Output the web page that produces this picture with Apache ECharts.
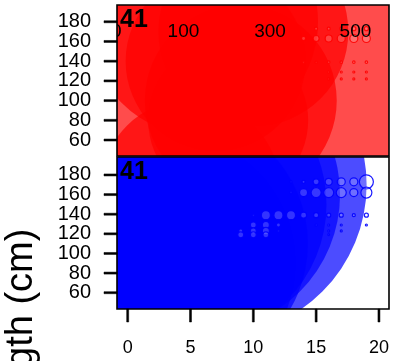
<!DOCTYPE html>
<html>
<head>
<meta charset="utf-8">
<script src="https://cdn.jsdelivr.net/npm/echarts@6/dist/echarts.min.js"></script>
<style>html,body{margin:0;padding:0;background:#fff}#c{width:393px;height:361px}</style>
</head>
<body>
<div id="c"></div>
<script>
// ---- data ----
const xTicks = [0, 5, 10, 15, 20];
const yTicks = [60, 80, 100, 120, 140, 160, 180];
const panelLabel = '41';
const yTitle = 'Length (cm)';

// legend (size key) labels inside top panel
const legendLabels = ['10', '100', '300', '500'];
const legendX = [-1.33, 4.44, 11.33, 18.13];
const legendY = [170, 170, 170, 170];

// top (red) panel: large bubbles
const redBigAge   = [10, 6, 5, 9, 10, 7, 8];
const redBigLen   = [120, 180, 10, 100, 170, 140, 80];
const redBigCount = [115600, 52900, 32400, 36864, 36100, 32400, 25600];
// top (red) panel: small bubbles
const redSmallAge   = [15,16,17,18,19, 14,15,16,17,18,19, 14,15,16,17,18,19, 16,17,18,19, 16,17,18,19];
const redSmallLen   = [173,173,173,173,173, 163,163,163,163,163,163, 139,139,139,139,139,139, 129,129,129,129, 122,122,122,122];
const redSmallCount = [9,9,9,16,16, 16,36,49,64,64,64, 4,4,6,6,6,6, 4,4,4,4, 4,4,4,4];

// bottom (blue) panel: large bubbles
const blueBigAge   = [7, 6, 5, 4, 3, 2];
const blueBigLen   = [170, 160, 150, 110, 90, 70];
const blueBigCount = [91204, 75076, 73984, 67600, 67600, 57600];
// bottom (blue) panel: small bubbles
const blueSmallAge   = [13,14,15,16,17,18,19, 13,14,15,16,17,18,19, 10,11,12,13,14,15,16,17,18,19, 10,11,12,15,16,17,19, 9,10,11,12,16,17, 9,10,11,16];
const blueSmallLen   = [173,173,173,173,173,173,173, 162,162,162,162,162,162,162, 139,139,139,139,139,139,139,139,139,139, 129,129,129,129,129,129,129, 123,123,123,123,123,123, 119,119,119,119];
const blueSmallCount = [3,9,36,49,64,64,196, 4,64,100,100,100,64,121, 4,81,81,81,36,25,16,16,9,16, 36,49,16,4,4,4,4, 16,36,49,4,4,4, 36,36,36,3];

// ---- chart ----
const FONT = '"Liberation Sans", Arial, Helvetica, sans-serif';
const R_PER_SQRT = 0.5;
const X_MIN = -0.85, X_MAX = 20.8;
const Y_RANGE_TOP = [43.8, 197], Y_RANGE_BOT = [43.4, 198.3];
const G_TOP = {left: 117, top: 5, width: 272, height: 151};
const G_BOT = {left: 117, top: 157, width: 272, height: 152};
const TICK_LEN = 12, TICK_W = 2;

function zip3(a, b, c) { return a.map((v, i) => [v, b[i], c[i]]); }

function bubbles(fill, stroke, lw) {
  return function (params, api) {
    const p = api.coord([api.value(0), api.value(1)]);
    const r = Math.sqrt(api.value(2)) * R_PER_SQRT;
    return {type: 'circle', shape: {cx: p[0], cy: p[1], r: r},
            style: {fill: fill, stroke: stroke, lineWidth: lw}};
  };
}

function xAxisCfg(grid) {
  return {gridIndex: grid, type: 'value', min: X_MIN, max: X_MAX,
          axisLine: {show: false}, splitLine: {show: false}, axisTick: {show: false}, axisLabel: {show: false}};
}
function yAxisCfg(grid, r) {
  return {gridIndex: grid, type: 'value', min: r[0], max: r[1],
          axisLine: {show: false}, splitLine: {show: false}, axisTick: {show: false}, axisLabel: {show: false}};
}

const chart = echarts.init(document.getElementById('c'), null, {renderer: 'canvas'});
chart.setOption({
  animation: false,
  backgroundColor: '#fff',
  grid: [G_TOP, G_BOT],
  xAxis: [xAxisCfg(0), xAxisCfg(1)],
  yAxis: [yAxisCfg(0, Y_RANGE_TOP), yAxisCfg(1, Y_RANGE_BOT)],
  series: [
    {type: 'custom', xAxisIndex: 0, yAxisIndex: 0, clip: true, silent: true,
     renderItem: bubbles('rgba(255,0,0,0.7)', 'none', 0),
     data: zip3(redBigAge, redBigLen, redBigCount)},
    {type: 'custom', xAxisIndex: 0, yAxisIndex: 0, clip: true, silent: true,
     renderItem: bubbles('rgba(255,255,255,0.2)', 'rgba(255,0,0,0.9)', 1.2),
     data: zip3(redSmallAge, redSmallLen, redSmallCount)},
    {type: 'custom', xAxisIndex: 0, yAxisIndex: 0, clip: true, silent: true,
     renderItem: function (params, api) {
       const p = api.coord([api.value(0), api.value(1)]);
       return {type: 'text', x: p[0], y: p[1],
               style: {text: legendLabels[api.value(2)], font: '19px ' + FONT, fill: '#000',
                       textAlign: 'center', textVerticalAlign: 'middle'}};
     },
     data: legendX.map((v, i) => [v, legendY[i], i])},
    {type: 'custom', xAxisIndex: 1, yAxisIndex: 1, clip: true, silent: true,
     renderItem: bubbles('rgba(0,0,255,0.7)', 'none', 0),
     data: zip3(blueBigAge, blueBigLen, blueBigCount)},
    {type: 'custom', xAxisIndex: 1, yAxisIndex: 1, clip: true, silent: true,
     renderItem: bubbles('rgba(255,255,255,0.2)', 'rgba(0,0,255,0.9)', 1.2),
     data: zip3(blueSmallAge, blueSmallLen, blueSmallCount)}
  ]
});

// axes (ticks, labels), frames and texts, positioned through the chart's own scales
const g = [];
[0, 1].forEach(function (gi) {
  yTicks.forEach(function (v) {
    const p = chart.convertToPixel({gridIndex: gi}, [X_MIN, v]);
    g.push({type: 'rect', z: 100, silent: true,
            shape: {x: p[0] - TICK_LEN - 1, y: p[1] - TICK_W / 2, width: TICK_LEN + 1, height: TICK_W},
            style: {fill: '#000', stroke: '#000', lineWidth: 0.5}});
    g.push({type: 'text', z: 100, silent: true, x: p[0] - TICK_LEN - 14, y: p[1],
            style: {text: String(v), font: '20px ' + FONT, fill: '#000', textAlign: 'right', textVerticalAlign: 'middle'}});
  });
});
xTicks.forEach(function (v) {
  const p = chart.convertToPixel({gridIndex: 1}, [v, Y_RANGE_BOT[0]]);
  g.push({type: 'rect', z: 100, silent: true,
          shape: {x: p[0] - TICK_W / 2, y: p[1], width: TICK_W, height: TICK_LEN + 1},
          style: {fill: '#000', stroke: '#000', lineWidth: 0.5}});
  g.push({type: 'text', z: 100, silent: true, x: p[0], y: p[1] + 39,
          style: {text: String(v), font: '18px ' + FONT, fill: '#000', textAlign: 'center', textVerticalAlign: 'middle'}});
});
[G_TOP, G_BOT].forEach(function (G) {
  g.push({type: 'rect', z: 100, silent: true, shape: {x: G.left, y: G.top, width: G.width, height: G.height},
          style: {fill: 'none', stroke: '#000', lineWidth: 1.6}});
});
g.push({type: 'text', z: 101, x: 120, y: 20, style: {text: panelLabel, font: 'bold 25px ' + FONT, fill: '#000', textAlign: 'left', textVerticalAlign: 'middle'}});
g.push({type: 'text', z: 101, x: 120, y: 172.5, style: {text: panelLabel, font: 'bold 25px ' + FONT, fill: '#000', textAlign: 'left', textVerticalAlign: 'middle'}});
g.push({type: 'text', z: 101, x: 22, y: 330, rotation: Math.PI / 2,
        style: {text: yTitle, font: '38px ' + FONT, fill: '#000', textAlign: 'center', textVerticalAlign: 'middle'}});
chart.setOption({graphic: g});
</script>
</body>
</html>
